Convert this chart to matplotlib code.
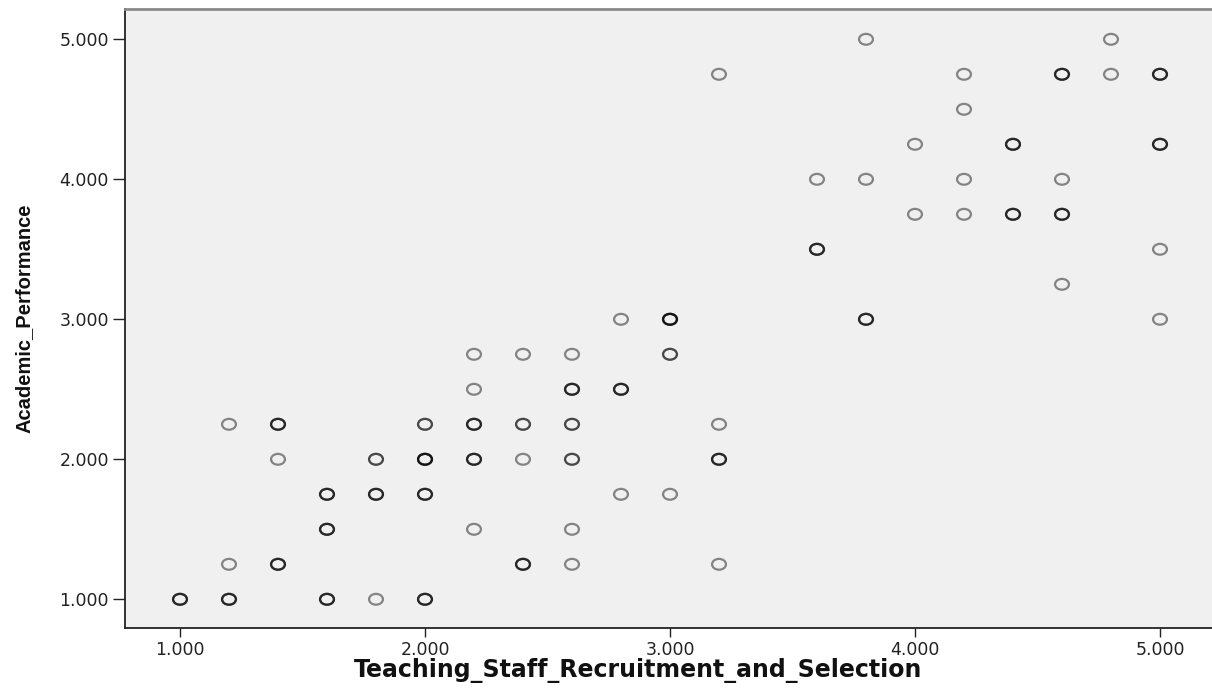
import numpy as np
import matplotlib
matplotlib.use("Agg")
import matplotlib.pyplot as plt
from matplotlib.path import Path
from matplotlib import font_manager as fm

# (x, y, number of overlapping cases)
staff = [1.0,
         1.2, 1.2, 1.2,
         1.4, 1.4, 1.4,
         1.6, 1.6, 1.6,
         1.8, 1.8, 1.8,
         2.0, 2.0, 2.0, 2.0,
         2.2, 2.2, 2.2, 2.2, 2.2,
         2.4, 2.4, 2.4, 2.4,
         2.6, 2.6, 2.6, 2.6, 2.6, 2.6,
         2.8, 2.8, 2.8,
         3.0, 3.0, 3.0,
         3.2, 3.2, 3.2, 3.2,
         3.6, 3.6,
         3.8, 3.8, 3.8,
         4.0, 4.0,
         4.2, 4.2, 4.2, 4.2,
         4.4, 4.4,
         4.6, 4.6, 4.6, 4.6,
         4.8, 4.8,
         5.0, 5.0, 5.0, 5.0]
perf = [1.0,
        1.0, 1.25, 2.25,
        1.25, 2.0, 2.25,
        1.0, 1.5, 1.75,
        1.0, 1.75, 2.0,
        1.0, 1.75, 2.0, 2.25,
        1.5, 2.0, 2.25, 2.5, 2.75,
        1.25, 2.0, 2.25, 2.75,
        1.25, 1.5, 2.0, 2.25, 2.5, 2.75,
        1.75, 2.5, 3.0,
        1.75, 2.75, 3.0,
        1.25, 2.0, 2.25, 4.75,
        3.5, 4.0,
        3.0, 4.0, 5.0,
        3.75, 4.25,
        3.75, 4.0, 4.5, 4.75,
        3.75, 4.25,
        3.25, 3.75, 4.0, 4.75,
        4.75, 5.0,
        3.0, 3.5, 4.25, 4.75]
cases = [3,
         3, 1, 1,
         3, 1, 3,
         3, 3, 3,
         1, 3, 2,
         3, 3, 4, 2,
         1, 3, 3, 1, 1,
         3, 1, 2, 1,
         1, 1, 2, 2, 3, 1,
         1, 3, 1,
         1, 2, 4,
         1, 3, 1, 1,
         3, 1,
         3, 1, 1,
         1, 1,
         1, 1, 1, 1,
         3, 3,
         1, 3, 1, 3,
         1, 1,
         1, 1, 3, 3]

xticks = [1, 2, 3, 4, 5]
yticks = [1, 2, 3, 4, 5]

xs = np.repeat(staff, cases)
ys = np.repeat(perf, cases)

# slightly flattened ring, like the stretched SPSS output
circ = Path.unit_circle()
ring = Path(circ.vertices * [1.0, 0.78], circ.codes)

fig = plt.figure(figsize=(12.12, 6.96), dpi=100)
ax = fig.add_axes([125 / 1212, 68 / 696, 1 - 125 / 1212, (628 - 9) / 696])
ax.set_facecolor("#F0F0F0")

ax.scatter(xs, ys, s=100, marker=ring, facecolors="none",
           edgecolors=(0, 0, 0, 0.45), linewidths=1.6)

ax.set_xlim(1 - 55 / 245, 5 + 52 / 245)
ax.set_ylim(1 - 28.7 / 140, 5 + 30.3 / 140)
ax.set_xticks(xticks)
ax.set_yticks(yticks)
ax.set_xticklabels([f"{v:.3f}" for v in xticks])
ax.set_yticklabels([f"{v:.3f}" for v in yticks])
ax.tick_params(axis="x", length=6.5, width=1.0, pad=3, labelsize=12.5, colors="#222222")
ax.tick_params(axis="y", length=8.5, width=1.0, pad=3, labelsize=12.5, colors="#222222")

ax.spines["right"].set_visible(False)
ax.spines["top"].set_color("#8a8a8a")
ax.spines["top"].set_linewidth(2.0)
ax.spines["left"].set_color("#222222")
ax.spines["bottom"].set_color("#222222")
ax.spines["left"].set_linewidth(1.3)
ax.spines["bottom"].set_linewidth(1.3)

fig.text(638 / 1212, (696 - 677) / 696, "Teaching_Staff_Recruitment_and_Selection",
         ha="center", va="baseline", fontsize=17, fontweight="bold",
         family="DejaVu Sans", color="#111111")

try:
    fm.findfont(fm.FontProperties(family="Liberation Sans Narrow", weight="bold"),
                fallback_to_default=False)
    yfam, ysize = "Liberation Sans Narrow", 18
except Exception:
    yfam, ysize = "Liberation Sans", 14.5
fig.text(24 / 1212, (696 - 318) / 696, "Academic_Performance", rotation=90,
         ha="center", va="center", fontsize=ysize, fontweight="bold",
         family=yfam, color="#111111")

fig.savefig("out.png", dpi=100)
